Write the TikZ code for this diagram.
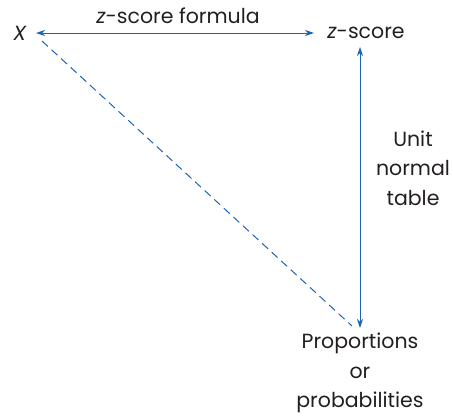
\documentclass[tikz,border=0pt]{standalone}
\usepackage{fontspec}
\setmainfont{Poppins}
\usetikzlibrary{arrows.meta}
\definecolor{lineblue}{RGB}{30,100,180}
\definecolor{txt}{RGB}{35,31,32}
\tikzset{bitip/.style={{Stealth[length=9pt,width=6pt]}-{Stealth[length=9pt,width=6pt]}}}
\begin{document}
\begin{tikzpicture}[x=1pt,y=-1pt,
  lbl/.style={text=txt,font=\fontsize{20.5}{29.5}\selectfont,inner sep=0pt,align=center},
  conn/.style={lineblue,line width=1pt}]
\useasboundingbox (0,0) rectangle (453,418);
\node[lbl] (x) at (20,33) {\textit{X}};
\node[lbl] (z) at (366,33) {\textit{z}-score};
\node[lbl] (pp) at (360,373) {Proportions\\or\\probabilities};
\node[lbl] (f) at (178,16) {\textit{z}-score formula};
\node[lbl] (u) at (413,168) {Unit\\normal\\table};
\coordinate (xr) at (36,33);
\coordinate (zl) at (314,33);
\coordinate (zb) at (360,47);
\coordinate (pt) at (360,328);
\coordinate (xd) at (42,41);
\coordinate (pd) at (352,326);
\draw[conn,bitip] (xr) -- (zl);
\draw[conn,bitip] (zb) -- (pt);
\draw[conn,dash pattern=on 8pt off 5pt] (xd) -- (pd);
\end{tikzpicture}
\end{document}
